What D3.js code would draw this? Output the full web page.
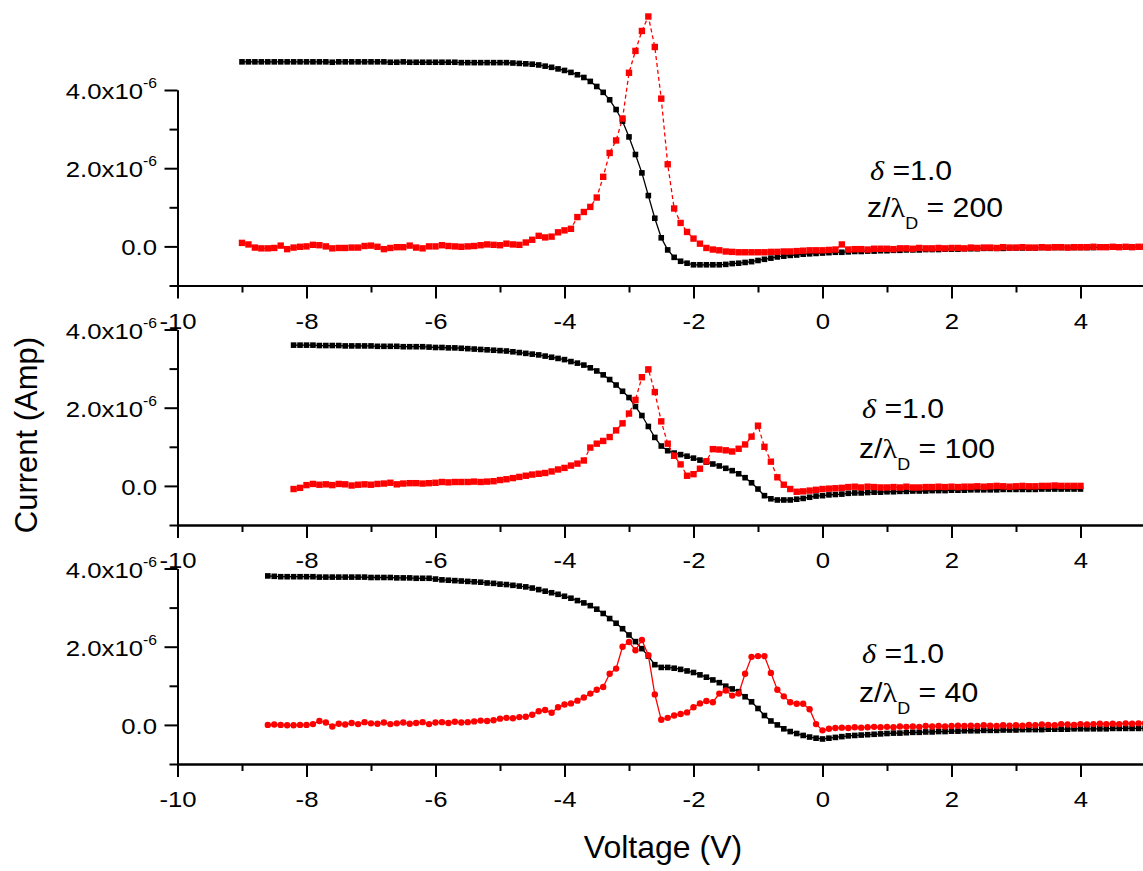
<!DOCTYPE html>
<meta charset="utf-8">
<title>Current vs voltage</title>
<style>
    body { margin: 0; background: #fff; }
    svg { display: block; }
    text { font-family: "Liberation Sans", Arial, sans-serif; fill: #000; }
</style>

<body>
    <div id="chart"></div>

    <script src="https://d3js.org/d3.v7.min.js"></script>
    <script>

        // probe voltage grid (V), shared by the three panels
        var voltage = [
            -9.0, -8.9, -8.8, -8.7, -8.6, -8.5, -8.4, -8.3, -8.2, -8.1,
            -8.0, -7.9, -7.8, -7.7, -7.6, -7.5, -7.4, -7.3, -7.2, -7.1,
            -7.0, -6.9, -6.8, -6.7, -6.6, -6.5, -6.4, -6.3, -6.2, -6.1,
            -6.0, -5.9, -5.8, -5.7, -5.6, -5.5, -5.4, -5.3, -5.2, -5.1,
            -5.0, -4.9, -4.8, -4.7, -4.6, -4.5, -4.4, -4.3, -4.2, -4.1,
            -4.0, -3.9, -3.8, -3.7, -3.6, -3.5, -3.4, -3.3, -3.2, -3.1,
            -3.0, -2.9, -2.8, -2.7, -2.6, -2.5, -2.4, -2.3, -2.2, -2.1,
            -2.0, -1.9, -1.8, -1.7, -1.6, -1.5, -1.4, -1.3, -1.2, -1.1,
            -1.0, -0.9, -0.8, -0.7, -0.6, -0.5, -0.4, -0.3, -0.2, -0.1,
            0.0, 0.1, 0.2, 0.3, 0.4, 0.5, 0.6, 0.7, 0.8, 0.9,
            1.0, 1.1, 1.2, 1.3, 1.4, 1.5, 1.6, 1.7, 1.8, 1.9,
            2.0, 2.1, 2.2, 2.3, 2.4, 2.5, 2.6, 2.7, 2.8, 2.9,
            3.0, 3.1, 3.2, 3.3, 3.4, 3.5, 3.6, 3.7, 3.8, 3.9,
            4.0, 4.1, 4.2, 4.3, 4.4, 4.5, 4.6, 4.7, 4.8, 4.9, 5.0
        ];

        // currents in units of 1e-6 A (null = not measured)
        // z/lambdaD = 200
        var topBlack = [
            4.72, 4.72, 4.72, 4.72, 4.72, 4.72, 4.72, 4.72, 4.72, 4.72,
            4.72, 4.72, 4.72, 4.72, 4.71, 4.72, 4.72, 4.72, 4.72, 4.72,
            4.72, 4.72, 4.72, 4.71, 4.71, 4.72, 4.71, 4.71, 4.71, 4.71,
            4.71, 4.71, 4.71, 4.71, 4.70, 4.70, 4.70, 4.70, 4.70, 4.70,
            4.70, 4.70, 4.69, 4.68, 4.67, 4.66, 4.64, 4.61, 4.58, 4.54,
            4.50, 4.45, 4.39, 4.32, 4.22, 4.09, 3.94, 3.75, 3.50, 3.20,
            2.80, 2.35, 1.88, 1.30, 0.72, 0.22, -0.09, -0.28, -0.38, -0.43,
            -0.47, -0.47, -0.47, -0.47, -0.47, -0.46, -0.44, -0.43, -0.41, -0.39,
            -0.36, -0.33, -0.30, -0.27, -0.25, -0.23, -0.22, -0.20, -0.19, -0.18,
            -0.17, -0.16, -0.15, -0.15, -0.14, -0.13, -0.13, -0.12, -0.12, -0.11,
            -0.11, -0.10, -0.10, -0.09, -0.09, -0.09, -0.08, -0.08, -0.08, -0.07,
            -0.07, -0.07, -0.06, -0.06, -0.06, -0.05, -0.05, -0.05, -0.05, -0.04,
            -0.04, -0.04, -0.04, -0.04, -0.03, -0.03, -0.03, -0.03, -0.03, -0.03,
            -0.03, -0.03, -0.03, -0.02, -0.02, -0.02, -0.02, -0.02, -0.02, -0.02, -0.02
        ];
        var topRed = [
            0.09, 0.05, -0.03, -0.05, -0.05, -0.04, 0.02, -0.07, -0.03, -0.01,
            0.00, 0.04, 0.03, 0.00, -0.05, -0.04, -0.04, -0.03, -0.03, 0.01,
            0.02, -0.01, -0.07, -0.04, -0.02, -0.02, 0.02, -0.03, -0.05, 0.00,
            0.00, 0.03, 0.01, 0.00, -0.01, 0.00, 0.01, 0.03, 0.05, 0.04,
            0.03, 0.07, 0.05, 0.04, 0.10, 0.17, 0.27, 0.23, 0.25, 0.36,
            0.41, 0.45, 0.75, 0.88, 1.01, 1.25, 1.78, 2.39, 2.71, 3.27,
            4.44, 5.00, 5.51, 5.88, 5.10, 3.78, 2.10, 0.97, 0.60, 0.37,
            0.20, 0.07, -0.04, -0.08, -0.10, -0.13, -0.14, -0.15, -0.15, -0.15,
            -0.15, -0.15, -0.14, -0.14, -0.13, -0.13, -0.12, -0.11, -0.10, -0.10,
            -0.10, -0.09, -0.08, 0.05, -0.08, -0.07, -0.07, -0.08, -0.06, -0.06,
            -0.06, -0.07, -0.05, -0.05, -0.06, -0.04, -0.05, -0.05, -0.04, -0.05,
            -0.04, -0.04, -0.05, -0.03, -0.04, -0.03, -0.03, -0.04, -0.02, -0.03,
            -0.03, -0.02, -0.03, -0.03, -0.02, -0.03, -0.02, -0.02, -0.03, -0.02,
            -0.02, -0.02, -0.01, -0.02, -0.02, -0.01, -0.02, -0.01, -0.02, -0.01, -0.01
        ];

        // z/lambdaD = 100
        var midBlack = [
            null, null, null, null, null, null, null, null, 3.60, 3.60,
            3.60, 3.60, 3.59, 3.59, 3.59, 3.59, 3.58, 3.58, 3.58, 3.58,
            3.58, 3.57, 3.57, 3.57, 3.57, 3.56, 3.56, 3.56, 3.56, 3.55,
            3.54, 3.54, 3.53, 3.53, 3.52, 3.51, 3.50, 3.49, 3.48, 3.47,
            3.46, 3.45, 3.43, 3.41, 3.39, 3.37, 3.35, 3.32, 3.29, 3.26,
            3.23, 3.18, 3.14, 3.09, 3.02, 2.94, 2.84, 2.72, 2.58, 2.42,
            2.26, 2.03, 1.80, 1.52, 1.24, 1.02, 0.90, 0.84, 0.80, 0.76,
            0.71, 0.66, 0.61, 0.56, 0.51, 0.45, 0.39, 0.31, 0.21, 0.08,
            -0.08, -0.25, -0.33, -0.36, -0.36, -0.36, -0.34, -0.32, -0.29, -0.26,
            -0.25, -0.23, -0.22, -0.21, -0.19, -0.18, -0.18, -0.17, -0.16, -0.16,
            -0.15, -0.15, -0.14, -0.14, -0.13, -0.13, -0.13, -0.12, -0.12, -0.12,
            -0.11, -0.11, -0.11, -0.10, -0.10, -0.10, -0.10, -0.10, -0.09, -0.09,
            -0.09, -0.09, -0.09, -0.09, -0.08, -0.08, -0.08, -0.08, -0.08, -0.08,
            -0.08, null, null, null, null, null, null, null, null, null, null
        ];
        var midRed = [
            null, null, null, null, null, null, null, null, -0.08, -0.05,
            0.02, 0.05, 0.03, 0.04, 0.02, 0.05, 0.04, 0.01, 0.03, 0.04,
            0.03, 0.05, 0.06, 0.08, 0.04, 0.06, 0.07, 0.07, 0.06, 0.07,
            0.08, 0.10, 0.09, 0.10, 0.10, 0.10, 0.11, 0.10, 0.11, 0.12,
            0.15, 0.17, 0.20, 0.23, 0.26, 0.29, 0.31, 0.33, 0.37, 0.42,
            0.46, 0.52, 0.57, 0.65, 0.98, 1.08, 1.15, 1.25, 1.42, 1.60,
            1.85, 2.20, 2.78, 2.98, 2.40, 1.65, 1.08, 0.77, 0.55, 0.26,
            0.30, 0.44, 0.63, 0.94, 0.93, 0.91, 0.88, 0.95, 1.06, 1.26,
            1.54, 1.00, 0.62, 0.22, 0.03, -0.08, -0.15, -0.14, -0.12, -0.10,
            -0.08, -0.07, -0.06, -0.05, -0.03, -0.02, -0.04, -0.02, -0.03, -0.04,
            -0.04, -0.03, -0.04, -0.02, -0.04, -0.04, -0.03, -0.03, -0.02, -0.03,
            -0.02, -0.03, -0.02, -0.02, -0.01, -0.02, -0.01, 0.00, -0.01, -0.02,
            -0.01, 0.00, -0.01, -0.01, 0.00, 0.00, 0.01, 0.00, 0.00, 0.00,
            0.00, null, null, null, null, null, null, null, null, null, null
        ];

        // z/lambdaD = 40
        var botBlack = [
            null, null, null, null, 3.81, 3.80, 3.79, 3.79, 3.79, 3.79,
            3.79, 3.79, 3.78, 3.78, 3.78, 3.78, 3.78, 3.78, 3.78, 3.78,
            3.77, 3.77, 3.77, 3.77, 3.76, 3.76, 3.76, 3.75, 3.75, 3.75,
            3.73, 3.71, 3.70, 3.69, 3.68, 3.67, 3.66, 3.65, 3.63, 3.62,
            3.60, 3.59, 3.57, 3.55, 3.53, 3.50, 3.46, 3.42, 3.38, 3.34,
            3.29, 3.24, 3.18, 3.12, 3.05, 2.96, 2.85, 2.72, 2.60, 2.46,
            2.30, 2.13, 1.95, 1.76, 1.54, 1.47, 1.47, 1.45, 1.42, 1.38,
            1.34, 1.28, 1.22, 1.15, 1.08, 0.99, 0.92, 0.85, 0.72, 0.59,
            0.42, 0.24, 0.10, 0.00, -0.10, -0.17, -0.22, -0.27, -0.31, -0.34,
            -0.36, -0.34, -0.32, -0.30, -0.28, -0.27, -0.26, -0.25, -0.24, -0.23,
            -0.22, -0.21, -0.21, -0.20, -0.19, -0.19, -0.18, -0.18, -0.17, -0.17,
            -0.16, -0.16, -0.15, -0.15, -0.15, -0.14, -0.14, -0.14, -0.13, -0.13,
            -0.13, -0.12, -0.12, -0.12, -0.12, -0.11, -0.11, -0.11, -0.11, -0.10,
            -0.10, -0.10, -0.10, -0.10, -0.10, -0.09, -0.09, -0.09, -0.09, -0.09, -0.09
        ];
        var botRed = [
            null, null, null, null, 0.00, 0.01, 0.00, -0.01, -0.01, 0.00,
            0.00, 0.02, 0.10, 0.06, -0.04, 0.03, 0.01, 0.05, 0.02, 0.07,
            0.04, 0.03, 0.06, 0.02, 0.04, 0.06, 0.03, 0.05, 0.07, 0.02,
            0.06, 0.07, 0.05, 0.08, 0.06, 0.07, 0.09, 0.11, 0.10, 0.12,
            0.16, 0.18, 0.17, 0.20, 0.21, 0.26, 0.35, 0.38, 0.31, 0.45,
            0.52, 0.55, 0.62, 0.70, 0.80, 0.90, 0.97, 1.31, 1.44, 2.00,
            2.12, 1.91, 2.17, 1.78, 0.78, 0.13, 0.18, 0.24, 0.28, 0.32,
            0.45, 0.55, 0.61, 0.58, 0.80, 0.88, 0.75, 0.80, 1.31, 1.74,
            1.76, 1.76, 1.33, 0.90, 0.73, 0.58, 0.54, 0.54, 0.40, 0.02,
            -0.14, -0.10, -0.08, -0.07, -0.08, -0.06, -0.07, -0.06, -0.05, -0.06,
            -0.05, -0.06, -0.04, -0.05, -0.04, -0.05, -0.03, -0.04, -0.03, -0.04,
            -0.03, -0.02, -0.03, -0.02, -0.03, -0.01, -0.02, -0.03, -0.01, -0.02,
            -0.01, -0.02, 0.00, -0.01, 0.01, 0.00, -0.01, 0.02, 0.01, 0.00,
            0.02, 0.01, 0.02, 0.03, 0.02, 0.03, 0.02, 0.04, 0.03, 0.04, 0.04
        ];

        // ticks and labels
        var xMajor = [-10, -8, -6, -4, -2, 0, 2, 4];
        var xMinor = [-9, -7, -5, -3, -1, 1, 3, 5];
        var yMajor = [0, 2, 4];
        var yMinor = [-1, 1, 3];
        var deltaValue = "1.0";
        var zRatios = ["200", "100", "40"];

        var width = 1143, height = 871;
        var panelH = 195.5;
        var stretch = "scale(1.12,1)";   // the labels in the original are a bit wide

        var svg = d3.select("#chart")
            .append("svg")
            .attr("width", width)
            .attr("height", height);

        var x = d3.scaleLinear().domain([-10, 5]).range([177.5, 1145]);

        var panels = [
            { black: topBlack, red: topRed, dashed: true, circles: false, top: 90, lx: 870, ly: 180, lz: 217 },
            { black: midBlack, red: midRed, dashed: true, circles: false, top: 329.5, lx: 862, ly: 418, lz: 458 },
            { black: botBlack, red: botRed, dashed: false, circles: true, top: 568.5, lx: 862, ly: 663, lz: 702 }
        ];

        function pairs(arr) {
            return voltage.map(function (v, i) { return [v, arr[i]]; })
                .filter(function (d) { return d[1] != null; });
        }

        function styleAxis(g) {
            g.selectAll(".domain").attr("stroke", "#000").attr("stroke-width", 2);
            g.selectAll(".tick line").attr("stroke", "#000").attr("stroke-width", 2);
            g.selectAll(".tick text").attr("transform", stretch);
            g.attr("font-size", 23).attr("font-family", null);
        }

        panels.forEach(function (p, i) {
            var y = d3.scaleLinear().domain([-1, 4]).range([p.top + panelH, p.top]);
            var g = svg.append("g");

            // x axis
            g.append("g")
                .attr("transform", "translate(0," + y(-1) + ")")
                .call(d3.axisBottom(x).tickValues(xMajor).tickSize(13).tickSizeOuter(0)
                    .tickPadding(14).tickFormat(function (d) { return String(d); }))
                .call(styleAxis);
            g.append("g")
                .attr("transform", "translate(0," + y(-1) + ")")
                .call(d3.axisBottom(x).tickValues(xMinor).tickSize(7).tickSizeOuter(0).tickFormat(""))
                .call(styleAxis);

            // y axis
            g.append("g")
                .attr("transform", "translate(" + x(-10) + ",0)")
                .call(d3.axisLeft(y).tickValues(yMajor).tickSize(13).tickSizeOuter(0).tickFormat(""))
                .call(styleAxis);
            g.append("g")
                .attr("transform", "translate(" + x(-10) + ",0)")
                .call(d3.axisLeft(y).tickValues(yMinor).tickSize(8).tickSizeOuter(0).tickFormat(""))
                .call(styleAxis);

            g.selectAll(".ylab")
                .data(yMajor)
                .join("text")
                .attr("class", "ylab")
                .attr("transform", function (d) { return "translate(157," + (y(d) + 9) + ") " + stretch; })
                .attr("text-anchor", "end")
                .attr("font-size", 23)
                .each(function (d) {
                    var t = d3.select(this);
                    if (d === 0) { t.text("0.0"); return; }
                    t.append("tspan").text(d.toFixed(1) + "x10");
                    t.append("tspan").attr("font-size", 14).attr("dy", -11).text("-6");
                });

            var line = d3.line()
                .x(function (d) { return x(d[0]); })
                .y(function (d) { return y(d[1]); });

            var blk = pairs(p.black), red = pairs(p.red);

            // black series
            g.append("path")
                .attr("d", line(blk))
                .attr("fill", "none")
                .attr("stroke", "#000")
                .attr("stroke-width", 1.3);
            g.selectAll(".bm")
                .data(blk)
                .join("rect")
                .attr("class", "bm")
                .attr("x", function (d) { return x(d[0]) - 2.8; })
                .attr("y", function (d) { return y(d[1]) - 2.8; })
                .attr("width", 5.6)
                .attr("height", 5.6)
                .attr("fill", "#000");

            // red series
            g.append("path")
                .attr("d", line(red))
                .attr("fill", "none")
                .attr("stroke", "#ff0000")
                .attr("stroke-width", 1.3)
                .attr("stroke-dasharray", p.dashed ? "4,3" : null);
            if (p.circles) {
                g.selectAll(".rm")
                    .data(red)
                    .join("circle")
                    .attr("class", "rm")
                    .attr("cx", function (d) { return x(d[0]); })
                    .attr("cy", function (d) { return y(d[1]); })
                    .attr("r", 3.2)
                    .attr("fill", "#ff0000");
            } else {
                g.selectAll(".rm")
                    .data(red)
                    .join("rect")
                    .attr("class", "rm")
                    .attr("x", function (d) { return x(d[0]) - 3.2; })
                    .attr("y", function (d) { return y(d[1]) - 3.2; })
                    .attr("width", 6.4)
                    .attr("height", 6.4)
                    .attr("fill", "#ff0000");
            }

            // annotation
            var t1 = g.append("text")
                .attr("transform", "translate(" + p.lx + "," + p.ly + ") " + stretch)
                .attr("font-size", 27);
            t1.append("tspan")
                .attr("font-family", "Liberation Serif, serif")
                .attr("font-style", "italic")
                .text("\u03b4");
            t1.append("tspan").text(" =" + deltaValue);

            var t2 = g.append("text")
                .attr("transform", "translate(" + (p.lx - 3) + "," + p.lz + ") " + stretch)
                .attr("font-size", 27);
            t2.append("tspan").text("z/");
            t2.append("tspan").attr("font-family", "Liberation Serif, serif").text("\u03bb");
            t2.append("tspan").attr("font-size", 16).attr("dy", 12).text("D");
            t2.append("tspan").attr("dy", -12).text(" = " + zRatios[i]);
        });

        // axis titles
        svg.append("text")
            .attr("x", 663)
            .attr("y", 858)
            .attr("text-anchor", "middle")
            .attr("font-size", 32)
            .text("Voltage (V)");

        svg.append("text")
            .attr("transform", "translate(37,435) rotate(-90)")
            .attr("text-anchor", "middle")
            .attr("font-size", 31)
            .text("Current (Amp)");

    </script>
</body>
